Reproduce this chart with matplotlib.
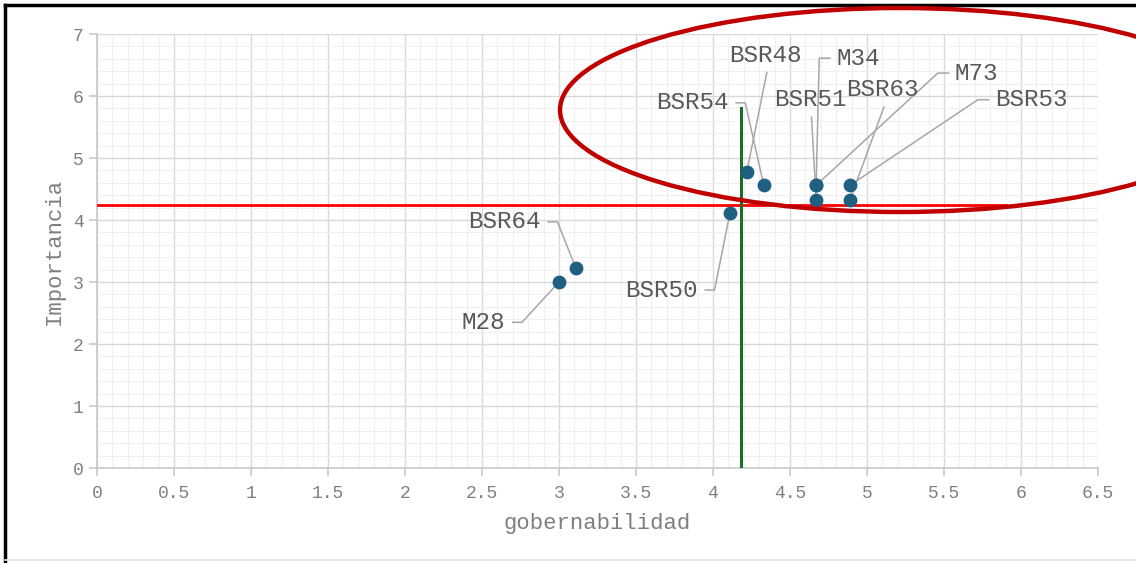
import matplotlib.pyplot as plt
import matplotlib.patches as mpatches
from matplotlib.ticker import MultipleLocator

plt.rcParams['font.family'] = ['Liberation Mono', 'DejaVu Sans Mono']

# data points (gobernabilidad, importancia)
labels = ['M28', 'BSR64', 'BSR50', 'BSR48', 'BSR54', 'M34', 'BSR51', 'M73', 'BSR63', 'BSR53']
gob = [3.00, 3.11, 4.11, 4.22, 4.33, 4.67, 4.67, 4.67, 4.89, 4.89]
imp = [3.00, 3.22, 4.11, 4.78, 4.56, 4.56, 4.33, 4.56, 4.33, 4.56]

# reference lines
mean_imp = 4.25
mean_gob = 4.18
hline_end = 5.9
vline_top = 5.8

# label placement: text x, text y, alignment
label_x = [2.65, 2.88, 3.90, 4.34, 4.10, 4.80, 4.63, 5.57, 5.10, 5.83]
label_y = [2.35, 3.97, 2.87, 6.66, 5.89, 6.61, 5.94, 6.37, 6.10, 5.94]
label_ha = ['right', 'right', 'right', 'center', 'right', 'left', 'center', 'left', 'center', 'left']

fig = plt.figure(figsize=(11.36, 5.63), dpi=100)
ax = fig.add_axes([0.0854, 0.1687, 0.9665 - 0.0854, 0.9396 - 0.1687])

ax.set_xlim(0, 6.5)
ax.set_ylim(0, 7)
ax.xaxis.set_major_locator(MultipleLocator(0.5))
ax.xaxis.set_minor_locator(MultipleLocator(0.1))
ax.yaxis.set_major_locator(MultipleLocator(1))
ax.yaxis.set_minor_locator(MultipleLocator(0.2))
ax.set_xticks([0, 0.5, 1, 1.5, 2, 2.5, 3, 3.5, 4, 4.5, 5, 5.5, 6, 6.5])
ax.set_xticklabels(['0', '0.5', '1', '1.5', '2', '2.5', '3', '3.5', '4', '4.5', '5', '5.5', '6', '6.5'])

ax.grid(which='major', color='#d9d9d9', lw=1.0)
ax.grid(which='minor', color='#f0f0f0', lw=0.8)
ax.set_axisbelow(True)
for s in ['top', 'right']:
    ax.spines[s].set_visible(False)
for s in ['left', 'bottom']:
    ax.spines[s].set_color('#c8c8c8')
    ax.spines[s].set_linewidth(1.2)
ax.tick_params(which='major', colors='#c8c8c8', labelcolor='#7f7f7f', labelsize=13, length=6, width=1.2)
ax.tick_params(which='minor', length=0)
ax.tick_params(axis='x', pad=6)

ax.set_xlabel('gobernabilidad', fontsize=16, color='#7f7f7f', labelpad=8)
ax.set_ylabel('Importancia', fontsize=16, color='#7f7f7f', labelpad=6)

ax.plot([0, hline_end], [mean_imp, mean_imp], color='#ff0000', lw=2.0, zorder=3)
ax.plot([mean_gob, mean_gob], [0, vline_top], color='#1e6b2a', lw=2.2, zorder=3)

ax.scatter(gob, imp, s=80, color='#1f5f82', zorder=5)

# data labels with leader lines
for i in range(len(labels)):
    tx, ty, ha = label_x[i], label_y[i], label_ha[i]
    ax.text(tx, ty, labels[i], ha=ha, va='center', fontsize=17.5, color='#595959', zorder=6)
    if ha == 'right':
        xs = [tx + 0.05, tx + 0.11, gob[i]]
        ys = [ty, ty, imp[i]]
    elif ha == 'left':
        xs = [tx - 0.04, tx - 0.11, gob[i]]
        ys = [ty, ty, imp[i]]
    else:
        xs = [tx + 0.01, gob[i]]
        ys = [ty - 0.28, imp[i]]
    ax.plot(xs, ys, color='#a6a6a6', lw=1.1, zorder=4)

# highlight ellipse (drawn in figure pixels)
ell = mpatches.Ellipse((900 / 1136, 1 - 110 / 563), 680 / 1136, 204 / 563,
                       transform=fig.transFigure, fill=False, edgecolor='#c00000',
                       lw=3.2, zorder=10, clip_on=False)
fig.patches.append(ell)

# screenshot frame
fig.add_artist(plt.Line2D([5 / 1136, 5 / 1136], [0, 1 - 5 / 563], transform=fig.transFigure, color='black', lw=2.5))
fig.add_artist(plt.Line2D([5 / 1136, 1], [1 - 5 / 563, 1 - 5 / 563], transform=fig.transFigure, color='black', lw=2.5))
fig.add_artist(plt.Line2D([5 / 1136, 1], [3 / 563, 3 / 563], transform=fig.transFigure, color='#e6e6e6', lw=1.2))

plt.savefig('out.png', dpi=100)
